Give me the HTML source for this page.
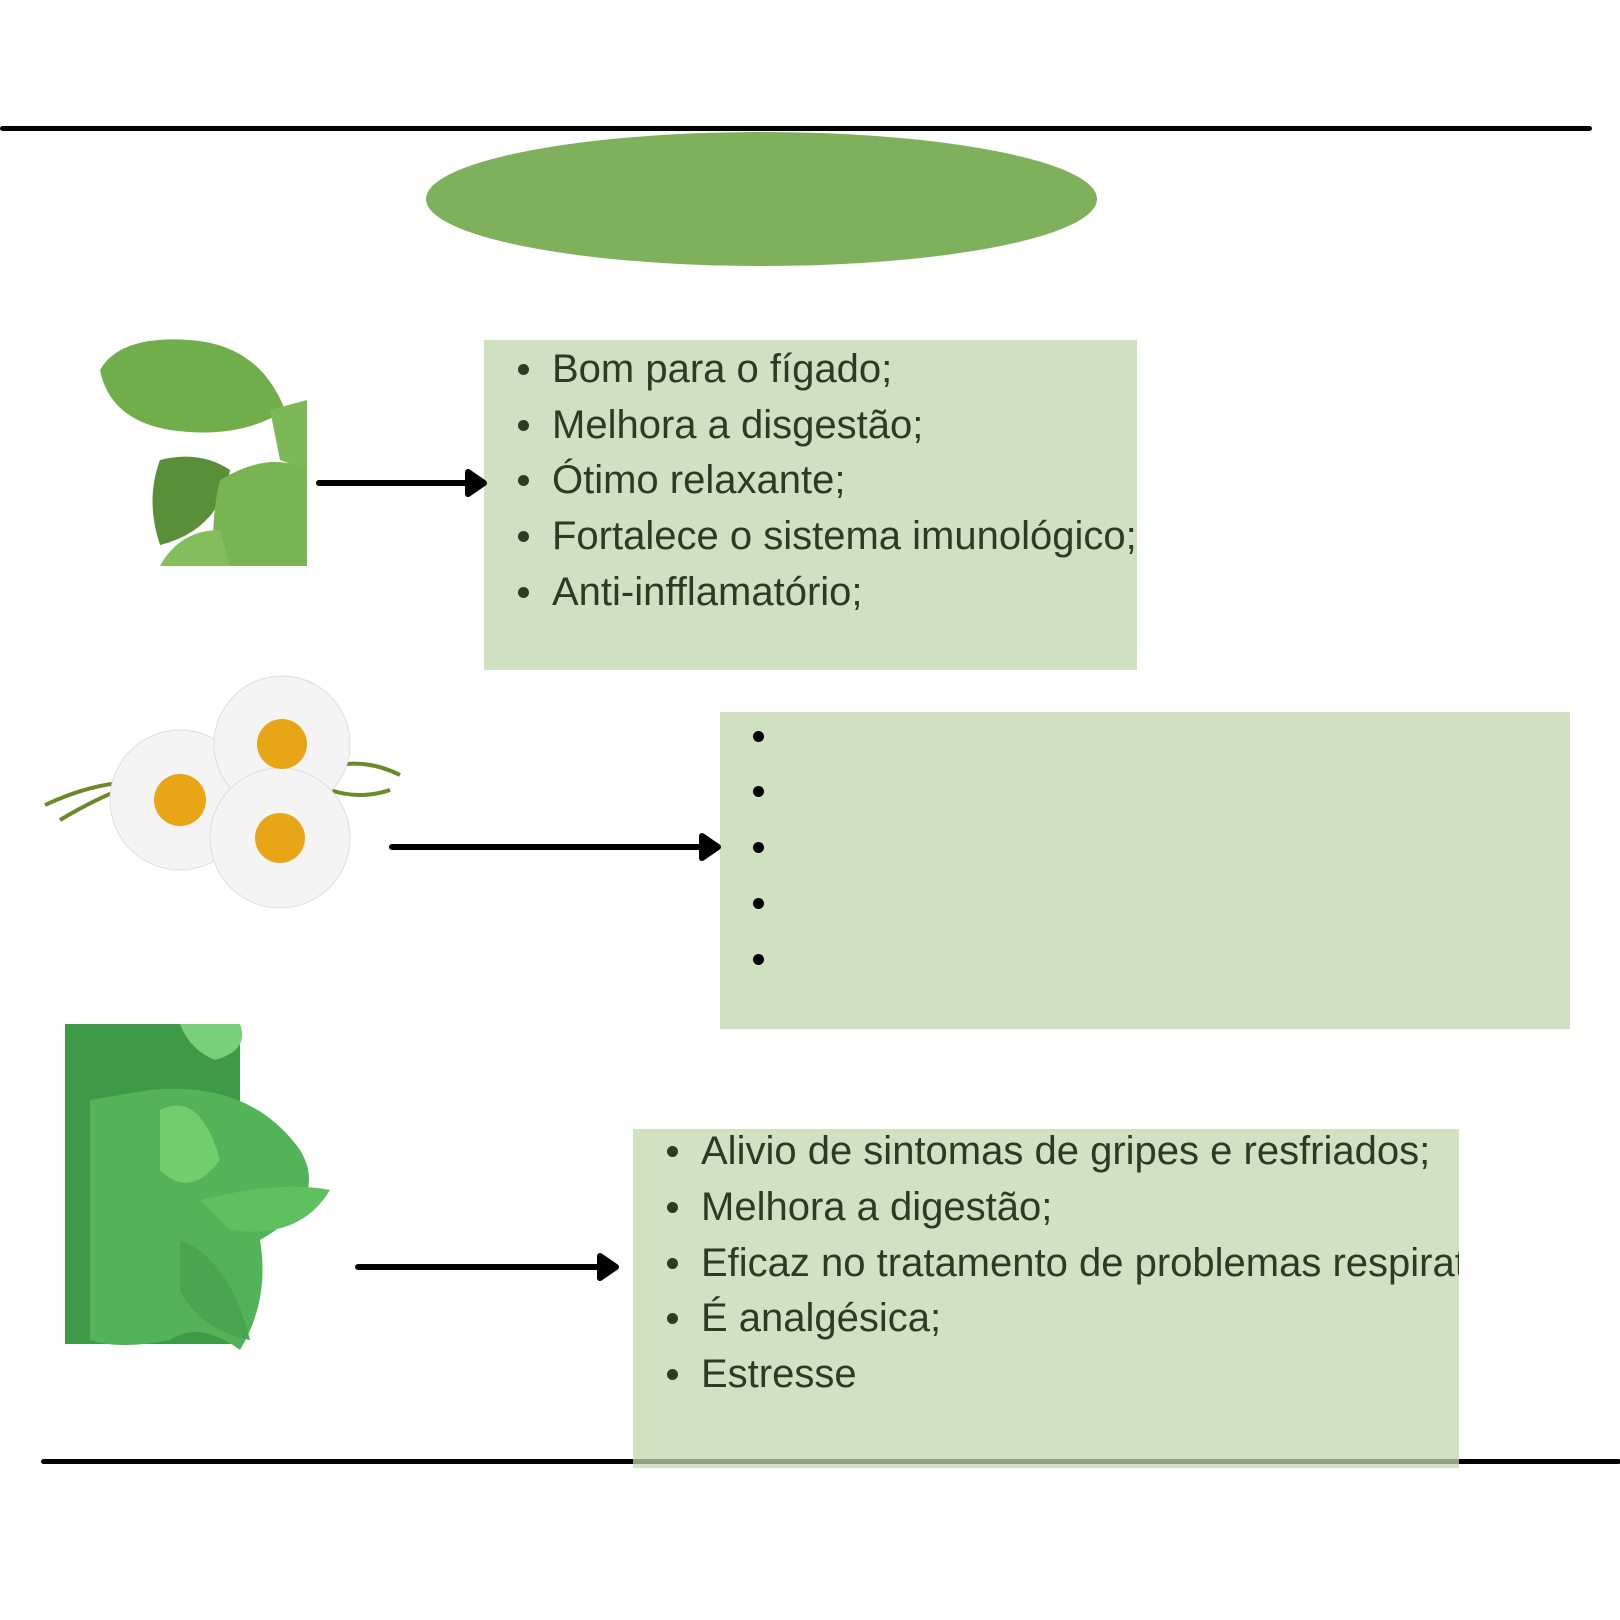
<!DOCTYPE html>
<html><head><meta charset="utf-8"><style>
html,body{margin:0;padding:0;background:#fff;}
body{width:1620px;height:1620px;position:relative;overflow:hidden;font-family:"Liberation Sans",sans-serif;}
.abs{position:absolute;}
.box{position:absolute;background:#cfe1c0;overflow:hidden;}
.line{position:absolute;font-size:40px;color:#2e3b22;white-space:nowrap;line-height:40px;}
.dot{position:absolute;width:11px;height:11px;border-radius:50%;}
</style></head><body>
<div class="abs" style="left:0;top:126px;width:1592px;height:5px;background:#000;border-radius:3px"></div>
<div class="abs" style="left:41px;top:1459px;width:1580px;height:5px;background:#000;border-radius:3px"></div>
<div class="abs" style="left:426px;top:132px;width:671px;height:134px;border-radius:50%;background:#7fb05b"></div>

<div class="box" style="left:484px;top:340px;width:653px;height:330px">
<div class="dot" style="background:#2e3b22;left:34px;top:24px"></div><div class="line" style="left:68px;top:9px">Bom para o fígado;</div>
<div class="dot" style="background:#2e3b22;left:34px;top:80px"></div><div class="line" style="left:68px;top:65px">Melhora a disgestão;</div>
<div class="dot" style="background:#2e3b22;left:34px;top:135px"></div><div class="line" style="left:68px;top:120px">Ótimo relaxante;</div>
<div class="dot" style="background:#2e3b22;left:34px;top:191px"></div><div class="line" style="left:68px;top:176px">Fortalece o sistema imunológico;</div>
<div class="dot" style="background:#2e3b22;left:34px;top:247px"></div><div class="line" style="left:68px;top:232px">Anti-infflamatório;</div>
</div>

<div class="box" style="left:720px;top:712px;width:850px;height:317px">
<div class="dot" style="background:#000;left:33px;top:19px"></div>
<div class="dot" style="background:#000;left:33px;top:74px"></div>
<div class="dot" style="background:#000;left:33px;top:130px"></div>
<div class="dot" style="background:#000;left:33px;top:186px"></div>
<div class="dot" style="background:#000;left:33px;top:242px"></div>
</div>

<div class="box" style="left:633px;top:1129px;width:826px;height:339px;background:rgba(192,216,172,0.75)">
<div class="dot" style="background:#2e3b22;left:34px;top:17px"></div><div class="line" style="left:68px;top:2px">Alivio de sintomas de gripes e resfriados;</div>
<div class="dot" style="background:#2e3b22;left:34px;top:73px"></div><div class="line" style="left:68px;top:58px">Melhora a digestão;</div>
<div class="dot" style="background:#2e3b22;left:34px;top:129px"></div><div class="line" style="left:68px;top:114px">Eficaz no tratamento de problemas respiratórios;</div>
<div class="dot" style="background:#2e3b22;left:34px;top:184px"></div><div class="line" style="left:68px;top:169px">É analgésica;</div>
<div class="dot" style="background:#2e3b22;left:34px;top:240px"></div><div class="line" style="left:68px;top:225px">Estresse</div>
</div>

<svg class="abs" style="left:0;top:0" width="1620" height="1620">
<g stroke="#000" stroke-width="6" stroke-linecap="round" fill="#000" stroke-linejoin="round">
<line x1="319" y1="483" x2="474" y2="483"/><polygon points="468,472 484,483 468,494"/>
<line x1="392" y1="847" x2="708" y2="847"/><polygon points="702,836 718,847 702,858"/>
<line x1="358" y1="1267" x2="606" y2="1267"/><polygon points="600,1256 616,1267 600,1278"/>
</g>
<!-- leaf image -->
<g>
<path d="M100,370 Q120,335 190,340 Q260,345 285,410 Q240,440 170,430 Q110,420 100,370Z" fill="#6fae4a"/>
<path d="M270,410 L307,400 L307,470 L280,460Z" fill="#7cb855"/>
<path d="M160,460 Q200,450 230,470 Q220,530 160,545 Q145,500 160,460Z" fill="#5a8f3a"/>
<path d="M220,480 Q270,450 307,470 L307,566 L215,566 Q210,520 220,480Z" fill="#78b452"/>
<path d="M160,566 Q180,530 220,530 L230,566Z" fill="#83bd5c"/>
</g>
<!-- chamomile -->
<g>
<path d="M45,805 Q120,770 170,790 M60,820 Q110,790 150,780 M320,770 Q360,755 400,775 M330,790 Q360,800 390,790" stroke="#6a8a2a" stroke-width="4" fill="none"/>
<g fill="#f4f4f4" stroke="#ddd" stroke-width="1">
<circle cx="180" cy="800" r="70"/><circle cx="282" cy="744" r="68"/><circle cx="280" cy="838" r="70"/>
</g>
<circle cx="180" cy="800" r="26" fill="#e8a515"/><circle cx="282" cy="744" r="25" fill="#e8a515"/><circle cx="280" cy="838" r="25" fill="#e8a515"/>
</g>
<!-- mint -->
<g>
<rect x="65" y="1024" width="175" height="320" fill="#3f9a48"/>
<path d="M150,1090 Q250,1080 300,1150 Q330,1200 260,1240 Q270,1300 240,1350 Q200,1320 170,1340 Q120,1350 90,1340 L90,1100Z" fill="#52b358"/>
<path d="M160,1110 Q200,1090 220,1160 Q190,1200 160,1170Z" fill="#6fcf6a"/>
<path d="M200,1200 Q280,1180 330,1190 Q300,1240 230,1230Z" fill="#5fc060"/>
<path d="M180,1240 Q230,1260 250,1340 Q200,1330 180,1290Z" fill="#48a650"/>
<path d="M180,1024 L240,1024 Q250,1050 215,1060 Q190,1050 180,1024Z" fill="#7ad07a"/>
</g>
</svg>
</body></html>
